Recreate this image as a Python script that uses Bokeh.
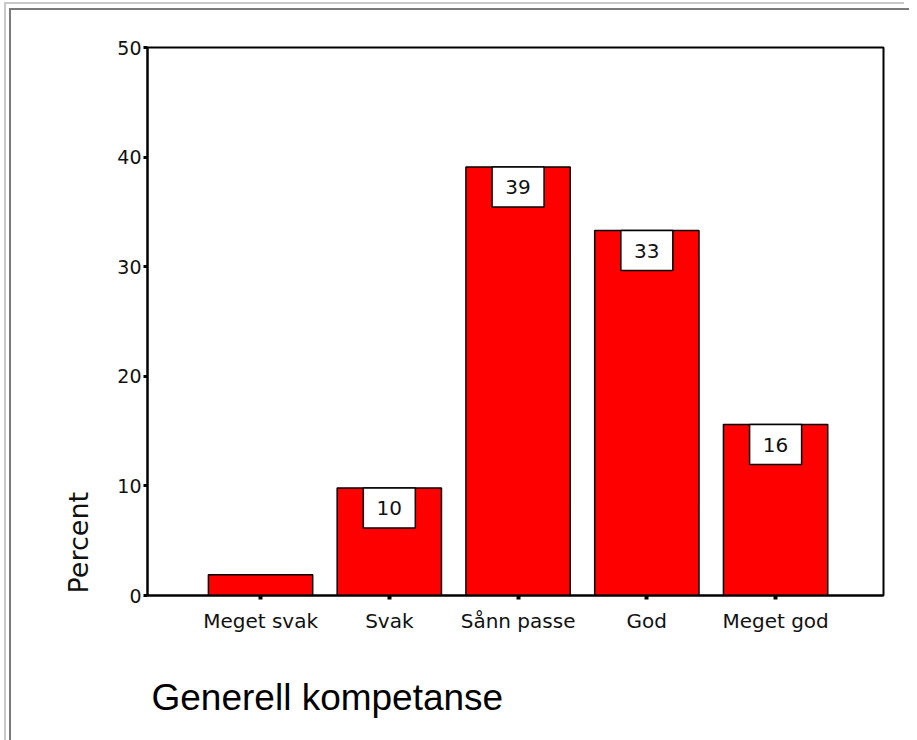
import math
from bokeh.plotting import figure
from bokeh.models import Range1d, FixedTicker, Title
from bokeh.embed import file_html
from bokeh.resources import INLINE
from bokeh.core.properties import value

# ---- data ----
categories = ["Meget svak", "Svak", "Sånn passe", "God", "Meget god"]
percent = [1.9, 9.8, 39.1, 33.3, 15.6]
bar_labels = ["", "10", "39", "33", "16"]
y_ticks = [0, 10, 20, 30, 40, 50]
y_label = "Percent"
title_text = "Generell kompetanse"

# ---- layout ----
FRAME_W, FRAME_H = 736, 548
Y_MAX = 50
positions = list(range(1, len(categories) + 1))
FONT = "DejaVu Sans"

p = figure(
    frame_width=FRAME_W, frame_height=FRAME_H,
    x_range=Range1d(0.122, 5.838), y_range=Range1d(0, Y_MAX),
    output_backend="svg", toolbar_location=None,
    min_border_left=136, min_border_right=26, min_border_top=37, min_border_bottom=20,
    background_fill_color="white", border_fill_color="white",
)
# grey window-frame lines of the original screenshot
p.styles = {
    "margin-left": "9px", "margin-top": "8px",
    "border-left": "2px solid #7a7a7a", "border-top": "2px solid #7a7a7a",
    "box-shadow": "-3px -4px 0 0 #ffffff, -5px -6px 0 0 #c8c8c8",
}

p.vbar(x=positions, top=percent, bottom=0, width=0.81,
       fill_color="#ff0000", line_color="black", line_width=1.5)

# value boxes at the top inside of each bar
px_per_unit = FRAME_H / Y_MAX
BOX_W, BOX_H = 52, 40
bx, by, bt = [], [], []
for x, v, t in zip(positions, percent, bar_labels):
    if t:
        bx.append(x)
        by.append(v - (BOX_H / 2) / px_per_unit)
        bt.append(t)
p.rect(x=bx, y=by, width=BOX_W, height=BOX_H, width_units="screen", height_units="screen",
       fill_color="white", line_color="black", line_width=1.5)
p.text(x=bx, y=by, text=bt, text_align="center", text_baseline="middle",
       text_font=value(FONT), text_font_size="20px", text_color="#111111")

# axes
p.xgrid.grid_line_color = None
p.ygrid.grid_line_color = None
p.outline_line_color = "black"
p.outline_line_width = 2

p.xaxis.ticker = FixedTicker(ticks=positions)
p.xaxis.major_label_overrides = {x: c for x, c in zip(positions, categories)}
p.xaxis.major_tick_in = 0
p.xaxis.major_tick_out = 4
p.xaxis.major_tick_line_width = 4
p.xaxis.minor_tick_line_color = None
p.xaxis.axis_line_width = 2
p.xaxis.major_label_text_font = FONT
p.xaxis.major_label_text_font_size = "20px"
p.xaxis.major_label_text_color = "#111111"
p.xaxis.major_label_standoff = 9

p.yaxis.ticker = FixedTicker(ticks=y_ticks)
p.yaxis.major_tick_in = 0
p.yaxis.major_tick_out = 4
p.yaxis.major_tick_line_width = 3
p.yaxis.minor_tick_line_color = None
p.yaxis.axis_line_width = 2
p.yaxis.major_label_text_font = FONT
p.yaxis.major_label_text_font_size = "19px"
p.yaxis.major_label_text_color = "#111111"
p.yaxis.major_label_standoff = 2

p.add_layout(Title(text=y_label, align="left", offset=2, standoff=41,
                   text_font=FONT, text_font_size="27px", text_font_style="normal",
                   text_color="#111111"), "left")
p.add_layout(Title(text=title_text, align="left", offset=4, standoff=78,
                   text_font="Liberation Sans", text_font_size="37px",
                   text_font_style="normal", text_color="black"), "below")

open("out.html", "w").write(file_html(p, INLINE))
